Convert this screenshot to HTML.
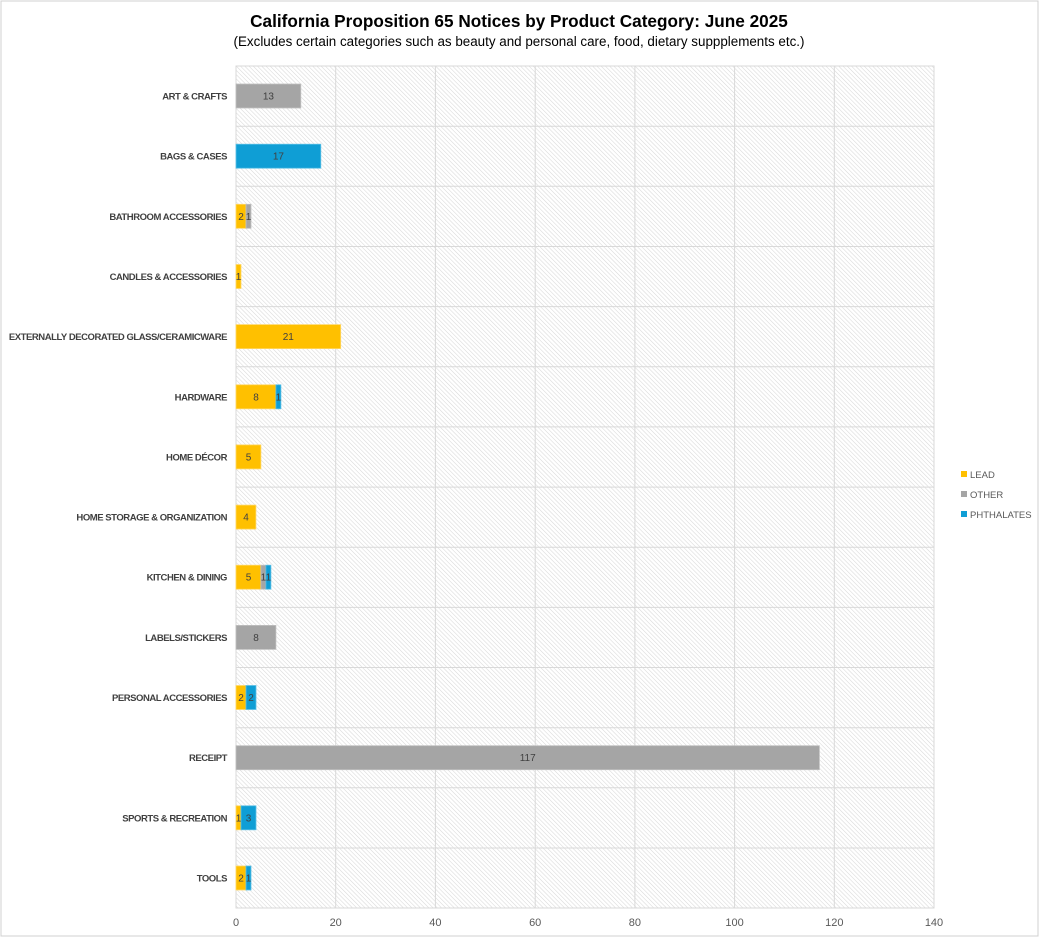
<!DOCTYPE html>
<html><head><meta charset="utf-8"><style>
html,body{margin:0;padding:0;background:#fff;}
svg{display:block;font-family:"Liberation Sans",sans-serif;}
.c{font-size:9.5px;font-weight:bold;fill:#404040;text-anchor:end;letter-spacing:-0.45px}
.v{font-size:10px;fill:#404040;text-anchor:middle}
.t{font-size:11px;fill:#595959;text-anchor:middle}
</style></head><body>
<svg width="1039" height="937" viewBox="0 0 1039 937">
<defs><pattern id="h" width="3" height="3" patternUnits="userSpaceOnUse" patternTransform="rotate(-45)"><rect width="3" height="3" fill="#fff"/><line x1="0" y1="0" x2="0" y2="3" stroke="#d8d8d8" stroke-width="1.1"/></pattern></defs>
<rect x="1" y="1" width="1037" height="935" fill="#fff" stroke="#d0d0d0"/>
<text x="519" y="27" text-anchor="middle" font-size="17.2" font-weight="bold" fill="#000">California Proposition 65 Notices by Product Category: June 2025</text>
<text x="519" y="46" text-anchor="middle" font-size="13.4" fill="#000">(Excludes certain categories such as beauty and personal care, food, dietary suppplements etc.)</text>
<rect x="236" y="66" width="698" height="842" fill="url(#h)" stroke="#d9d9d9"/>
<g stroke="#d9d9d9" stroke-width="1">
<line x1="236" x2="934" y1="126.2" y2="126.2"/><line x1="236" x2="934" y1="186.3" y2="186.3"/><line x1="236" x2="934" y1="246.5" y2="246.5"/><line x1="236" x2="934" y1="306.6" y2="306.6"/><line x1="236" x2="934" y1="366.8" y2="366.8"/><line x1="236" x2="934" y1="426.9" y2="426.9"/><line x1="236" x2="934" y1="487.1" y2="487.1"/><line x1="236" x2="934" y1="547.2" y2="547.2"/><line x1="236" x2="934" y1="607.4" y2="607.4"/><line x1="236" x2="934" y1="667.5" y2="667.5"/><line x1="236" x2="934" y1="727.7" y2="727.7"/><line x1="236" x2="934" y1="787.8" y2="787.8"/><line x1="236" x2="934" y1="848" y2="848"/>
<line y1="66" y2="908" x1="335.7" x2="335.7"/><line y1="66" y2="908" x1="435.4" x2="435.4"/><line y1="66" y2="908" x1="535.2" x2="535.2"/><line y1="66" y2="908" x1="634.9" x2="634.9"/><line y1="66" y2="908" x1="734.6" x2="734.6"/><line y1="66" y2="908" x1="834.3" x2="834.3"/>
</g>
<g class="t">
<text x="236" y="926">0</text><text x="335.7" y="926">20</text><text x="435.4" y="926">40</text><text x="535.2" y="926">60</text><text x="634.9" y="926">80</text><text x="734.6" y="926">100</text><text x="834.3" y="926">120</text><text x="934" y="926">140</text>
</g>
<g class="c">
<text x="227" y="99.5">ART &amp; CRAFTS</text>
<text x="227" y="159.7">BAGS &amp; CASES</text>
<text x="227" y="219.8">BATHROOM ACCESSORIES</text>
<text x="227" y="280">CANDLES &amp; ACCESSORIES</text>
<text x="227" y="340.1">EXTERNALLY DECORATED GLASS/CERAMICWARE</text>
<text x="227" y="400.3">HARDWARE</text>
<text x="227" y="460.4">HOME DÉCOR</text>
<text x="227" y="520.6">HOME STORAGE &amp; ORGANIZATION</text>
<text x="227" y="580.7">KITCHEN &amp; DINING</text>
<text x="227" y="640.9">LABELS/STICKERS</text>
<text x="227" y="701">PERSONAL ACCESSORIES</text>
<text x="227" y="761.2">RECEIPT</text>
<text x="227" y="821.3">SPORTS &amp; RECREATION</text>
<text x="227" y="881.5">TOOLS</text>
</g>
<g stroke-width="0.8">
<rect x="236" y="84" width="64.8" height="24" fill="#A5A5A5" stroke="#c0c0c0"/>
<rect x="236" y="144.2" width="84.8" height="24" fill="#0F9ED5" stroke="#5cc0e6"/>
<rect x="236" y="204.3" width="10" height="24" fill="#FFC000" stroke="#ffd766"/><rect x="246" y="204.3" width="5" height="24" fill="#A5A5A5" stroke="#c0c0c0"/>
<rect x="236" y="264.5" width="5" height="24" fill="#FFC000" stroke="#ffd766"/>
<rect x="236" y="324.6" width="104.7" height="24" fill="#FFC000" stroke="#ffd766"/>
<rect x="236" y="384.8" width="39.9" height="24" fill="#FFC000" stroke="#ffd766"/><rect x="275.9" y="384.8" width="5" height="24" fill="#0F9ED5" stroke="#5cc0e6"/>
<rect x="236" y="444.9" width="24.9" height="24" fill="#FFC000" stroke="#ffd766"/>
<rect x="236" y="505.1" width="19.9" height="24" fill="#FFC000" stroke="#ffd766"/>
<rect x="236" y="565.2" width="24.9" height="24" fill="#FFC000" stroke="#ffd766"/><rect x="260.9" y="565.2" width="5" height="24" fill="#A5A5A5" stroke="#c0c0c0"/><rect x="265.9" y="565.2" width="5" height="24" fill="#0F9ED5" stroke="#5cc0e6"/>
<rect x="236" y="625.4" width="39.9" height="24" fill="#A5A5A5" stroke="#c0c0c0"/>
<rect x="236" y="685.5" width="10" height="24" fill="#FFC000" stroke="#ffd766"/><rect x="246" y="685.5" width="10" height="24" fill="#0F9ED5" stroke="#5cc0e6"/>
<rect x="236" y="745.7" width="583.4" height="24" fill="#A5A5A5" stroke="#c0c0c0"/>
<rect x="236" y="805.8" width="5" height="24" fill="#FFC000" stroke="#ffd766"/><rect x="241" y="805.8" width="15" height="24" fill="#0F9ED5" stroke="#5cc0e6"/>
<rect x="236" y="866" width="10" height="24" fill="#FFC000" stroke="#ffd766"/><rect x="246" y="866" width="5" height="24" fill="#0F9ED5" stroke="#5cc0e6"/>
</g>
<g class="v">
<text x="268.4" y="99.5">13</text>
<text x="278.4" y="159.7">17</text>
<text x="241" y="219.8">2</text><text x="248.5" y="219.8">1</text>
<text x="238.5" y="280">1</text>
<text x="288.3" y="340.1">21</text>
<text x="256" y="400.3">8</text><text x="278.4" y="400.3">1</text>
<text x="248.5" y="460.4">5</text>
<text x="246" y="520.6">4</text>
<text x="248.5" y="580.7">5</text><text x="263.4" y="580.7">1</text><text x="268.4" y="580.7">1</text>
<text x="256" y="640.9">8</text>
<text x="241" y="701">2</text><text x="251" y="701">2</text>
<text x="527.7" y="761.2">117</text>
<text x="238.5" y="821.3">1</text><text x="248.5" y="821.3">3</text>
<text x="241" y="881.5">2</text><text x="248.5" y="881.5">1</text>
</g>
<rect x="961" y="471" width="6" height="6" fill="#FFC000"/><text x="970" y="478" font-size="9.5" fill="#595959">LEAD</text>
<rect x="961" y="491" width="6" height="6" fill="#A5A5A5"/><text x="970" y="498" font-size="9.5" fill="#595959">OTHER</text>
<rect x="961" y="511" width="6" height="6" fill="#0F9ED5"/><text x="970" y="518" font-size="9.5" fill="#595959">PHTHALATES</text>
</svg>
</body></html>
